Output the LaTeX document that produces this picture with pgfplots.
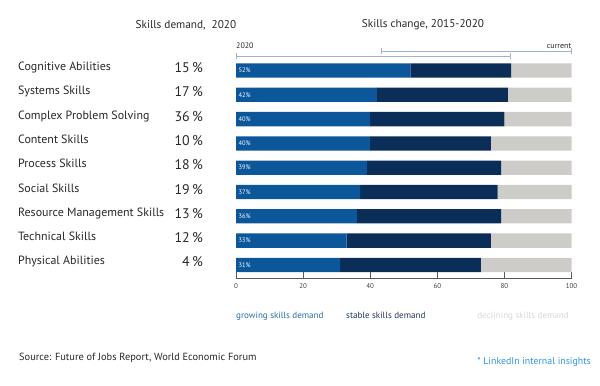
\documentclass[border=0pt]{standalone}
\usepackage{fontspec}
\setmainfont{PT Sans}
\usepackage{pgfplots}
\pgfplotsset{compat=1.18}
\usepackage{pgfplotstable}

\definecolor{grow}{RGB}{11,87,154}
\definecolor{stab}{RGB}{10,46,88}
\definecolor{decl}{RGB}{205,204,200}
\definecolor{growtxt}{RGB}{40,110,170}
\definecolor{stabtxt}{RGB}{30,55,95}
\definecolor{decltxt}{RGB}{215,215,215}
\definecolor{lnk}{RGB}{45,150,230}
\definecolor{linec}{RGB}{160,178,205}
\definecolor{txt}{RGB}{40,40,40}

\tikzset{
  barlbl/.style={anchor=west, inner sep=0pt, text=white, font=\fontsize{6.5}{7}\selectfont},
  catlbl/.style={anchor=base west, inner sep=0pt, text=txt, font=\fontsize{12}{14}\selectfont},
  pctlbl/.style={anchor=base east, inner sep=0pt, text=txt, font=\fontsize{14}{16}\selectfont, yshift=-2bp},
  leglbl/.style={anchor=base west, inner sep=0pt, font=\fontsize{9.1}{11}\selectfont},
}

% y = row, growing / stable / declining skills demand (%)
\pgfplotstableread{
y grow stable decl
1 52 30 18
2 42 39 19
3 40 40 20
4 40 36 24
5 39 40 21
6 37 41 22
7 36 43 21
8 33 43 24
9 31 42 27
}\skills

\begin{document}
\begin{tikzpicture}
\useasboundingbox (0,0) rectangle (600bp,386bp);
\begin{axis}[
  at={(236bp,107.7bp)}, anchor=south west,
  scale only axis, width=335.5bp, height=239.4bp,
  xmin=0, xmax=100, ymin=-0.3, ymax=9.55,
  y dir=reverse,
  xbar stacked, bar width=14.3bp,
  axis x line*=bottom, axis y line=none,
  x axis line style={-, draw=black!65, line width=0.6pt},
  ytick=\empty,
  xtick={0,20,40,60,80,100},
  tick align=inside, major tick length=6bp,
  tick style={draw=black!65, line width=0.6pt},
  xticklabel style={font=\fontsize{7}{8}\selectfont, text=black!75, yshift=-1.5bp},
  /pgf/number format/assume math mode=true,
  clip=false,
]
\addplot[fill=grow, draw=none] table[x=grow, y=y]{\skills};
\addplot[fill=stab, draw=none] table[x=stable, y=y]{\skills};
\addplot[fill=decl, draw=none] table[x=decl, y=y]{\skills};

\coordinate (b1) at (axis cs:0.7,1);
\coordinate (b2) at (axis cs:0.7,2);
\coordinate (b3) at (axis cs:0.7,3);
\coordinate (b4) at (axis cs:0.7,4);
\coordinate (b5) at (axis cs:0.7,5);
\coordinate (b6) at (axis cs:0.7,6);
\coordinate (b7) at (axis cs:0.7,7);
\coordinate (b8) at (axis cs:0.7,8);
\coordinate (b9) at (axis cs:0.7,9);

\node[catlbl] at (axis cs:-65,1) {Cognitive Abilities};
\node[catlbl] at (axis cs:-65,2) {Systems Skills};
\node[catlbl] at (axis cs:-65,3) {Complex Problem Solving};
\node[catlbl] at (axis cs:-65,4) {Content Skills};
\node[catlbl] at (axis cs:-65,5) {Process Skills};
\node[catlbl] at (axis cs:-65,6) {Social Skills};
\node[catlbl] at (axis cs:-65,7) {Resource Management Skills};
\node[catlbl] at (axis cs:-65,8) {Technical Skills};
\node[catlbl] at (axis cs:-65,9) {Physical Abilities};

\node[pctlbl] at (axis cs:-9.8,1) {15\,\%};
\node[pctlbl] at (axis cs:-9.8,2) {17\,\%};
\node[pctlbl] at (axis cs:-9.8,3) {36\,\%};
\node[pctlbl] at (axis cs:-9.8,4) {10\,\%};
\node[pctlbl] at (axis cs:-9.8,5) {18\,\%};
\node[pctlbl] at (axis cs:-9.8,6) {19\,\%};
\node[pctlbl] at (axis cs:-9.8,7) {13\,\%};
\node[pctlbl] at (axis cs:-9.8,8) {12\,\%};
\node[pctlbl] at (axis cs:-9.8,9) {4\,\%};

\draw[linec, line width=0.6pt, |-|] (axis cs:0,0.4) -- (axis cs:81.8,0.4);
\draw[linec, line width=0.6pt, |-|] (axis cs:43.3,0.196) -- (axis cs:100,0.196);
\node[anchor=west, inner sep=0pt, text=txt, font=\fontsize{8}{9}\selectfont] at (axis cs:0,-0.01) {2020};
\node[anchor=east, inner sep=0pt, text=txt, font=\fontsize{8}{9}\selectfont] at (axis cs:100,-0.01) {current};
\end{axis}

\node[barlbl] at (b1) {52\%};
\node[barlbl] at (b2) {42\%};
\node[barlbl] at (b3) {40\%};
\node[barlbl] at (b4) {40\%};
\node[barlbl] at (b5) {39\%};
\node[barlbl] at (b6) {37\%};
\node[barlbl] at (b7) {36\%};
\node[barlbl] at (b8) {33\%};
\node[barlbl] at (b9) {31\%};

\node[text=txt, font=\fontsize{11.3}{13}\selectfont] at (186bp,361bp) {Skills demand,\ \ 2020};
\node[text=txt, font=\fontsize{11.3}{13}\selectfont] at (423bp,361bp) {Skills change, 2015-2020};

\node[leglbl, text=growtxt] at (236bp,67.5bp) {growing skills demand};
\node[leglbl, text=stabtxt] at (346bp,67.5bp) {stable skills demand};
\node[leglbl, text=decltxt, anchor=base east] at (569bp,67.5bp) {declining skills demand};

\node[anchor=base west, inner sep=0pt, text=txt, font=\fontsize{10.4}{12}\selectfont] at (19bp,25.5bp) {Source: Future of Jobs Report, World Economic Forum};
\node[anchor=base east, inner sep=0pt, text=lnk, font=\fontsize{9.9}{12}\selectfont] at (591bp,21.5bp) {* LinkedIn internal insights};
\end{tikzpicture}
\end{document}
